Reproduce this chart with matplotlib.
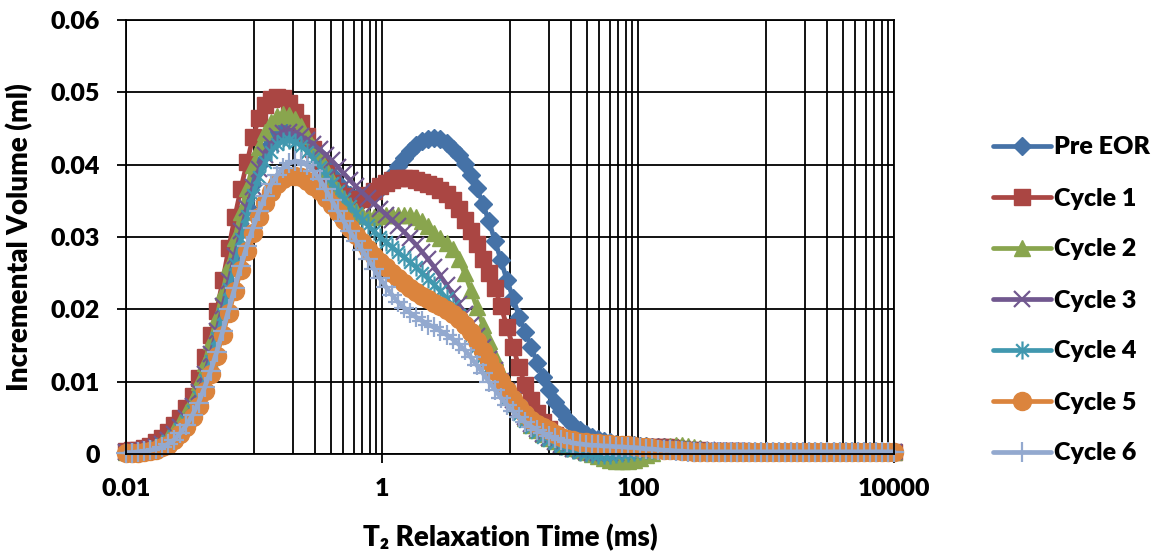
import numpy as np
import matplotlib
matplotlib.use('Agg')
import matplotlib.pyplot as plt
from matplotlib.path import Path
from matplotlib.ticker import FixedLocator, FixedFormatter, NullFormatter

plt.rcParams['font.family'] = ['Lato', 'DejaVu Sans']
plt.rcParams['font.weight'] = 'heavy'

# T2 bins (ms), 128 log-spaced bins from 0.01 to 10000 ms
t2 = np.logspace(-2, 4, 128)

# Incremental volume, in units of 0.001 ml
pre_eor = [
    0.3, 0.3, 0.4, 0.5, 0.7, 1.0, 1.4, 2.0, 2.7, 3.6, 4.7, 6.2, 8.2, 10.6, 13.4, 16.6,
    20.0, 23.6, 27.2, 30.8, 34.2, 37.3, 40.0, 42.0, 43.5, 44.4, 44.8, 44.9, 44.7, 44.2, 43.4, 42.4,
    41.2, 39.9, 38.6, 37.4, 36.4, 35.8, 35.4, 35.4, 35.5, 35.9, 36.6, 37.5, 38.6, 39.8, 40.9, 41.9,
    42.7, 43.3, 43.6, 43.7, 43.5, 43.0, 42.2, 41.3, 40.1, 38.6, 36.8, 34.6, 32.2, 29.5, 26.8, 24.0,
    21.6, 19.0, 16.9, 14.8, 12.6, 10.6, 8.8, 7.2, 5.9, 4.8, 4.0, 3.3, 2.8, 2.4, 2.1, 1.8,
    1.6, 1.4, 1.3, 1.2, 1.2, 1.1, 1.1, 1.0, 1.0, 0.9, 0.8, 0.7, 0.6, 0.5, 0.5, 0.4,
    0.4, 0.4, 0.4, 0.4, 0.4, 0.4, 0.4, 0.3, 0.3, 0.3, 0.3, 0.3, 0.3, 0.3, 0.3, 0.3,
    0.3, 0.3, 0.3, 0.3, 0.3, 0.3, 0.3, 0.3, 0.3, 0.3, 0.3, 0.3, 0.3, 0.3, 0.3, 0.3]
cycle1 = [
    0.4, 0.5, 0.6, 0.8, 1.1, 1.6, 2.2, 3.0, 4.0, 5.0, 6.3, 8.0, 10.5, 13.4, 16.5, 19.8,
    24.0, 28.5, 32.8, 36.7, 40.3, 43.8, 46.5, 48.3, 49.1, 49.3, 49.2, 48.5, 47.3, 45.8, 44.0, 42.2,
    40.5, 38.9, 37.5, 36.4, 35.6, 35.2, 35.1, 35.3, 35.8, 36.4, 37.0, 37.5, 37.9, 38.1, 38.1, 38.1,
    37.9, 37.6, 37.3, 37.0, 36.5, 35.9, 35.1, 33.9, 32.4, 30.8, 29.0, 27.0, 25.0, 23.0, 20.4, 17.6,
    14.8, 12.0, 9.5, 7.4, 5.7, 4.4, 3.4, 2.6, 2.0, 1.6, 1.3, 1.1, 1.0, 0.9, 0.9, 0.8,
    0.8, 0.8, 0.8, 0.9, 0.9, 1.0, 1.0, 1.0, 1.0, 0.9, 0.9, 0.8, 0.7, 0.6, 0.5, 0.5,
    0.4, 0.4, 0.4, 0.4, 0.4, 0.4, 0.4, 0.3, 0.3, 0.3, 0.3, 0.3, 0.3, 0.3, 0.3, 0.3,
    0.3, 0.3, 0.3, 0.3, 0.3, 0.3, 0.3, 0.3, 0.3, 0.3, 0.3, 0.3, 0.3, 0.3, 0.3, 0.3]
cycle2 = [
    0.3, 0.3, 0.4, 0.6, 0.8, 1.2, 1.7, 2.4, 3.3, 4.4, 5.8, 7.6, 9.9, 12.6, 15.6, 18.9,
    22.4, 26.1, 29.8, 33.4, 36.8, 39.9, 42.5, 44.5, 45.9, 46.7, 47.0, 46.9, 46.3, 45.3, 44.0, 42.5,
    41.0, 39.4, 37.9, 36.5, 35.3, 34.3, 33.6, 33.1, 32.9, 32.8, 32.9, 33.0, 33.1, 33.1, 33.1, 33.0,
    32.7, 32.2, 31.5, 30.6, 29.9, 29.2, 28.4, 27.0, 25.0, 22.7, 20.3, 17.9, 15.6, 13.4, 11.3, 9.4,
    7.7, 6.2, 5.0, 4.0, 3.3, 2.7, 2.2, 1.8, 1.4, 1.1, 0.8, 0.6, 0.3, 0.0, -0.3, -0.6,
    -0.8, -1.0, -1.0, -1.0, -0.8, -0.5, -0.2, 0.2, 0.6, 0.9, 1.1, 1.2, 1.2, 1.1, 1.0, 0.8,
    0.6, 0.5, 0.4, 0.3, 0.3, 0.3, 0.3, 0.3, 0.3, 0.3, 0.3, 0.3, 0.3, 0.3, 0.3, 0.3,
    0.3, 0.3, 0.3, 0.3, 0.3, 0.3, 0.3, 0.3, 0.3, 0.3, 0.3, 0.3, 0.3, 0.3, 0.3, 0.3]
cycle3 = [
    0.3, 0.3, 0.4, 0.5, 0.7, 1.0, 1.4, 2.0, 2.8, 3.8, 5.0, 6.6, 8.6, 11.0, 13.8, 17.0,
    20.4, 23.9, 27.4, 30.8, 34.0, 36.9, 39.4, 41.4, 42.9, 43.9, 44.4, 44.5, 44.3, 43.9, 43.4, 42.8,
    42.1, 41.4, 40.6, 39.7, 38.8, 37.9, 37.0, 36.2, 35.4, 34.6, 33.9, 33.1, 32.3, 31.5, 30.7, 29.8,
    28.9, 27.9, 26.9, 25.8, 24.6, 23.4, 22.1, 20.7, 19.3, 17.8, 16.3, 14.8, 13.2, 11.6, 10.1, 8.7,
    7.4, 6.2, 5.1, 4.2, 3.4, 2.7, 2.2, 1.7, 1.3, 1.0, 0.7, 0.5, 0.3, 0.2, 0.1, 0.1,
    0.1, 0.2, 0.3, 0.4, 0.5, 0.6, 0.7, 0.8, 0.8, 0.8, 0.8, 0.7, 0.7, 0.6, 0.6, 0.5,
    0.5, 0.4, 0.4, 0.4, 0.4, 0.3, 0.3, 0.3, 0.3, 0.3, 0.3, 0.3, 0.3, 0.3, 0.3, 0.3,
    0.3, 0.3, 0.3, 0.3, 0.3, 0.3, 0.3, 0.3, 0.3, 0.3, 0.3, 0.3, 0.3, 0.3, 0.3, 0.3]
cycle4 = [
    0.2, 0.3, 0.3, 0.4, 0.6, 0.9, 1.3, 1.8, 2.5, 3.4, 4.5, 6.0, 7.9, 10.2, 12.9, 16.0,
    19.3, 22.8, 26.3, 29.7, 32.9, 35.8, 38.3, 40.3, 41.8, 42.8, 43.3, 43.4, 43.2, 42.6, 41.8, 40.8,
    39.7, 38.6, 37.5, 36.4, 35.3, 34.3, 33.3, 32.4, 31.6, 30.8, 30.0, 29.3, 28.6, 27.9, 27.2, 26.5,
    25.8, 25.0, 24.2, 23.4, 22.5, 21.5, 20.4, 19.2, 17.9, 16.5, 15.0, 13.5, 12.0, 10.5, 9.1, 7.8,
    6.6, 5.5, 4.5, 3.7, 3.0, 2.4, 1.9, 1.5, 1.1, 0.8, 0.5, 0.3, 0.1, 0.0, -0.1, -0.1,
    -0.1, 0.0, 0.1, 0.2, 0.3, 0.4, 0.5, 0.6, 0.6, 0.6, 0.6, 0.5, 0.5, 0.5, 0.4, 0.4,
    0.4, 0.4, 0.4, 0.3, 0.3, 0.3, 0.3, 0.3, 0.3, 0.3, 0.3, 0.3, 0.3, 0.3, 0.3, 0.3,
    0.3, 0.3, 0.3, 0.3, 0.3, 0.3, 0.3, 0.3, 0.3, 0.3, 0.3, 0.3, 0.3, 0.3, 0.3, 0.3]
cycle5 = [
    0.1, 0.1, 0.2, 0.3, 0.4, 0.6, 0.9, 1.3, 1.9, 2.7, 3.8, 5.1, 6.7, 8.7, 11.0, 13.6,
    16.5, 19.5, 22.5, 25.4, 28.1, 30.6, 32.8, 34.7, 36.2, 37.3, 38.0, 38.4, 38.5, 38.3, 37.8, 37.1,
    36.3, 35.4, 34.4, 33.4, 32.4, 31.3, 30.3, 29.3, 28.3, 27.4, 26.6, 25.8, 25.0, 24.3, 23.6, 23.0,
    22.4, 21.9, 21.4, 20.9, 20.4, 19.9, 19.3, 18.6, 17.8, 16.8, 15.6, 14.3, 12.9, 11.5, 10.1, 8.8,
    7.6, 6.5, 5.5, 4.7, 4.2, 3.8, 3.3, 2.8, 2.4, 2.1, 1.9, 1.7, 1.6, 1.5, 1.5, 1.4,
    1.4, 1.3, 1.3, 1.2, 1.1, 1.0, 0.9, 0.8, 0.7, 0.6, 0.5, 0.5, 0.4, 0.4, 0.3, 0.3,
    0.3, 0.3, 0.3, 0.3, 0.3, 0.3, 0.3, 0.3, 0.3, 0.3, 0.3, 0.3, 0.3, 0.3, 0.3, 0.3,
    0.3, 0.3, 0.3, 0.3, 0.3, 0.3, 0.3, 0.3, 0.3, 0.3, 0.3, 0.3, 0.3, 0.3, 0.3, 0.3]
cycle6 = [
    0.2, 0.2, 0.3, 0.4, 0.5, 0.7, 1.0, 1.4, 2.0, 2.9, 4.0, 5.4, 7.1, 9.2, 11.5, 14.1,
    17.0, 20.0, 23.0, 26.0, 28.8, 31.3, 33.6, 35.6, 37.3, 38.6, 39.6, 40.2, 40.5, 40.4, 39.9, 39.1,
    38.0, 36.6, 35.1, 33.6, 32.2, 30.8, 29.5, 28.2, 27.0, 25.6, 24.3, 23.1, 22.0, 21.0, 20.2, 19.5,
    18.9, 18.4, 17.9, 17.5, 17.0, 16.5, 15.9, 15.2, 14.4, 13.4, 12.3, 11.2, 10.0, 8.9, 7.8, 6.8,
    5.9, 5.1, 4.4, 3.8, 3.3, 2.9, 2.5, 2.2, 1.9, 1.7, 1.5, 1.4, 1.3, 1.2, 1.2, 1.1,
    1.1, 1.0, 1.0, 0.9, 0.9, 0.8, 0.7, 0.7, 0.6, 0.5, 0.5, 0.4, 0.4, 0.3, 0.3, 0.3,
    0.3, 0.3, 0.3, 0.3, 0.3, 0.3, 0.3, 0.3, 0.3, 0.3, 0.3, 0.3, 0.3, 0.3, 0.3, 0.3,
    0.3, 0.3, 0.3, 0.3, 0.3, 0.3, 0.3, 0.3, 0.3, 0.3, 0.3, 0.3, 0.3, 0.3, 0.3, 0.3]

labels = ['Pre EOR', 'Cycle 1', 'Cycle 2', 'Cycle 3', 'Cycle 4', 'Cycle 5', 'Cycle 6']
x_ticks = [0.01, 1, 100, 10000]
x_ticklabels = ['0.01', '1', '100', '10000']
y_ticks = [0, 0.01, 0.02, 0.03, 0.04, 0.05, 0.06]
y_ticklabels = ['0', '0.01', '0.02', '0.03', '0.04', '0.05', '0.06']

# Excel-style asterisk: vertical bar plus an x
star = Path([(0, -1), (0, 1), (-0.7, -0.7), (0.7, 0.7), (-0.7, 0.7), (0.7, -0.7)],
            [Path.MOVETO, Path.LINETO] * 3)

styles = [
    dict(color='#4572A7', marker='D', ms=9.5),
    dict(color='#AA4643', marker='s', ms=11),
    dict(color='#89A54E', marker='^', ms=12),
    dict(color='#71588F', marker='x', ms=12, mew=1.6),
    dict(color='#4198AF', marker=star, ms=13, mew=1.6),
    dict(color='#DB843D', marker='o', ms=13),
    dict(color='#93A9CF', marker='+', ms=14, mew=1.6),
]

fig = plt.figure(figsize=(11.61, 5.57), dpi=100)
ax = fig.add_axes([126 / 1161, 103 / 557, 768 / 1161, 434 / 557])

for lab, vals, st in zip(labels, [pre_eor, cycle1, cycle2, cycle3, cycle4, cycle5, cycle6], styles):
    ax.plot(t2, np.array(vals) / 1000, lw=3.4, label=lab, clip_on=False,
            solid_capstyle='round', mec=st['color'], **st)

ax.set_xscale('log')
ax.set_xlim(0.01, 10000)
ax.set_ylim(0, 0.06)
ax.xaxis.set_major_locator(FixedLocator(x_ticks))
ax.xaxis.set_major_formatter(FixedFormatter(x_ticklabels))
minor = [m * 10.0 ** k for k in (-1, 1, 3) for m in range(1, 10)]
ax.xaxis.set_minor_locator(FixedLocator(minor))
ax.xaxis.set_minor_formatter(NullFormatter())
ax.yaxis.set_major_locator(FixedLocator(y_ticks))
ax.yaxis.set_major_formatter(FixedFormatter(y_ticklabels))

ax.grid(True, which='both', color='black', lw=1.3)
ax.set_axisbelow(True)
for sp in ax.spines.values():
    sp.set_color('black')
    sp.set_linewidth(1.3)
ax.tick_params(axis='both', which='major', direction='out', length=6.5, width=1.3,
               labelsize=18, color='black')
ax.tick_params(axis='x', which='major', pad=11)
ax.tick_params(axis='y', which='major', pad=12)
ax.tick_params(axis='x', which='minor', length=0)

ax.set_xlabel('T\u2082 Relaxation Time (ms)', fontsize=20, fontweight='heavy', va='center')
ax.xaxis.set_label_coords(0.5, -(538 - 454) / 434)
ax.set_ylabel('Incremental Volume (ml)', fontsize=20, fontweight='heavy', va='center')
ax.yaxis.set_label_coords((20 - 126) / 768, 0.5)

fig.legend(loc='center left', bbox_to_anchor=(993 / 1161, 1 - 300.5 / 557),
           frameon=False, fontsize=18, handlelength=2.3, handletextpad=0.15,
           labelspacing=1.16, borderpad=0, borderaxespad=0)

fig.savefig('out.png', dpi=100)
